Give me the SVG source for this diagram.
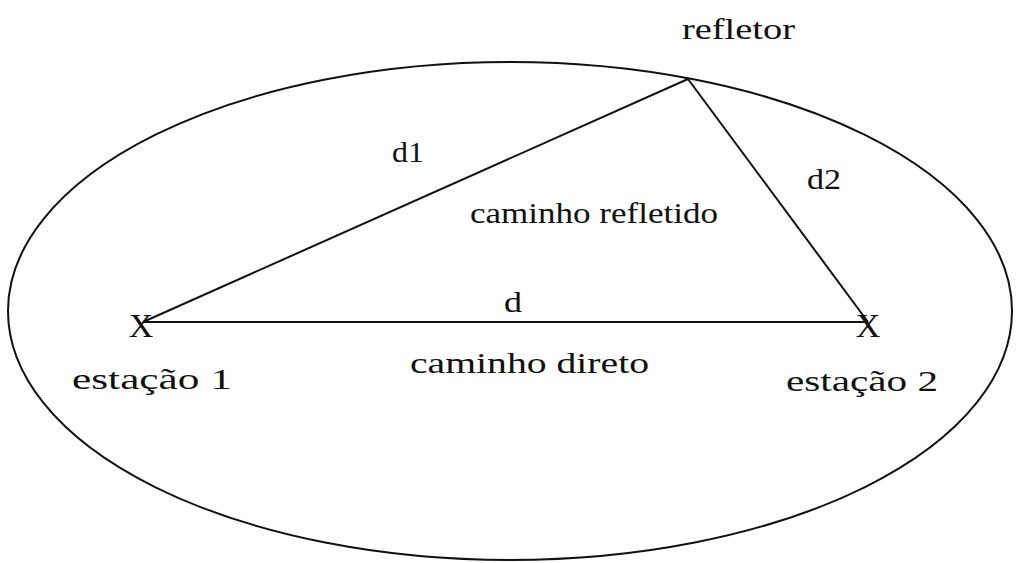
<svg xmlns="http://www.w3.org/2000/svg" width="1017" height="563" viewBox="0 0 1017 563">
<style>
.t{font-family:"Liberation Serif","Times New Roman",serif;font-size:30px;fill:#111}
.x{font-family:"Liberation Serif","Times New Roman",serif;font-size:34px;fill:#111}
.ln{stroke:#111;stroke-width:2;fill:none}
</style>
<rect width="1017" height="563" fill="#fff"/>
<g id="ellipse"><ellipse cx="510" cy="311" rx="502" ry="249" class="ln" stroke-width="1.6"/></g>
<g id="connectors">
<line x1="143" y1="322" x2="868" y2="322" class="ln" stroke-width="2.4"/>
<line x1="143" y1="322" x2="688" y2="79" class="ln"/>
<line x1="688" y1="79" x2="868" y2="322" class="ln"/>
</g>
<g id="estacao1">
<text x="141" y="337" class="x" text-anchor="middle">X</text>
<text x="72" y="389" class="t" textLength="160" lengthAdjust="spacingAndGlyphs">estação 1</text>
</g>
<g id="estacao2">
<text x="868" y="337" class="x" text-anchor="middle">X</text>
<text x="786" y="391" class="t" textLength="152" lengthAdjust="spacingAndGlyphs">estação 2</text>
</g>
<g id="refletor">
<text x="682" y="39" class="t" textLength="113" lengthAdjust="spacingAndGlyphs">refletor</text>
</g>
<g id="labels">
<text x="392" y="162" class="t" textLength="32" lengthAdjust="spacingAndGlyphs">d1</text>
<text x="807" y="189" class="t" textLength="34" lengthAdjust="spacingAndGlyphs">d2</text>
<text x="470" y="223" class="t" textLength="248" lengthAdjust="spacingAndGlyphs">caminho refletido</text>
<text x="504" y="312" class="t" textLength="18" lengthAdjust="spacingAndGlyphs">d</text>
<text x="410" y="373" class="t" textLength="239" lengthAdjust="spacingAndGlyphs">caminho direto</text>
</g>
</svg>
